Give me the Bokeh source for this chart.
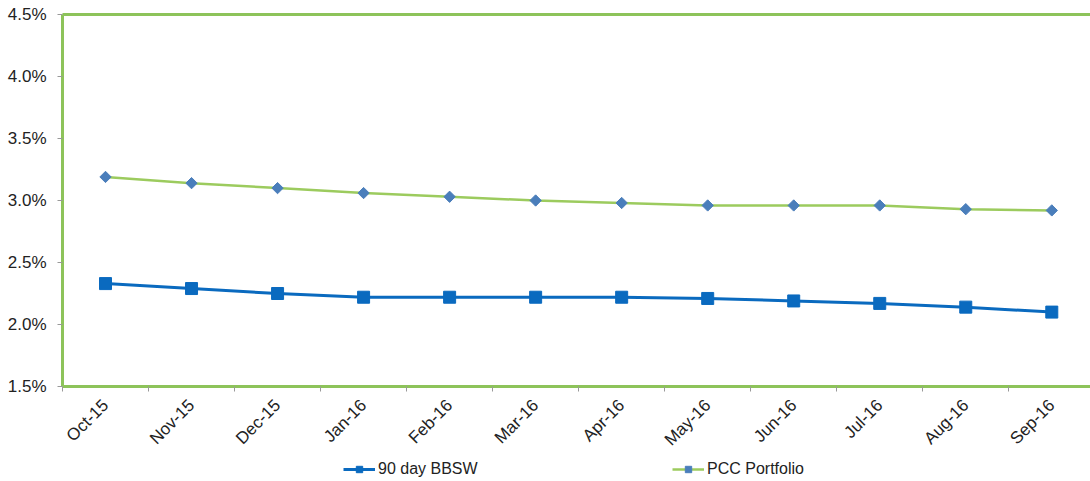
from bokeh.plotting import figure
from bokeh.layouts import column
from bokeh.models import (Range1d, FixedTicker, PrintfTickFormatter, LinearAxis,
                          Legend, LegendItem)
from bokeh.embed import file_html
from bokeh.resources import INLINE
import math

# Monthly rates, in percent
months = ["Oct-15", "Nov-15", "Dec-15", "Jan-16", "Feb-16", "Mar-16",
          "Apr-16", "May-16", "Jun-16", "Jul-16", "Aug-16", "Sep-16"]
bbsw_90day = [2.33, 2.29, 2.25, 2.22, 2.22, 2.22, 2.22, 2.21, 2.19, 2.17, 2.14, 2.10]
pcc_portfolio = [3.19, 3.14, 3.10, 3.06, 3.03, 3.00, 2.98, 2.96, 2.96, 2.96, 2.93, 2.92]
y_ticks = [1.5, 2.0, 2.5, 3.0, 3.5, 4.0, 4.5]

FONT = "Liberation Sans"
FRAME_GREEN = "#8DC35A"
BLUE = "#0A6ABF"
LINE_GREEN = "#9CCB5E"
DIAMOND = "#4A7EBB"
TEXT = "#222222"

xs = list(range(len(months)))

p = figure(width=1090, height=459, output_backend="svg", toolbar_location=None,
           x_range=Range1d(-0.5, 11.45), y_range=Range1d(1.5, 4.5),
           min_border_left=62, min_border_right=0, min_border_top=14,
           min_border_bottom=63, outline_line_color=None)
p.xgrid.visible = False
p.ygrid.visible = False
p.background_fill_color = "white"
p.border_fill_color = "white"

# y axis
p.yaxis.ticker = FixedTicker(ticks=y_ticks)
p.yaxis.formatter = PrintfTickFormatter(format="%.1f%%")
p.yaxis.axis_line_color = FRAME_GREEN
p.yaxis.axis_line_width = 3
p.yaxis.major_tick_line_color = "#999999"
p.yaxis.major_tick_out = 5
p.yaxis.major_tick_in = 0
p.yaxis.minor_tick_line_color = None
p.yaxis.major_label_standoff = 11
p.yaxis.major_label_text_font = FONT
p.yaxis.major_label_text_font_size = "17px"
p.yaxis.major_label_text_color = TEXT

# x axis: labels at month centres, ticks on the boundaries
p.xaxis.ticker = FixedTicker(ticks=xs, minor_ticks=[k + 0.5 for k in range(-1, 12)])
p.xaxis.major_label_overrides = {i: m for i, m in enumerate(months)}
p.xaxis.major_label_orientation = math.pi / 4
p.xaxis.major_tick_line_color = None
p.xaxis.major_tick_out = 0
p.xaxis.major_tick_in = 0
p.xaxis.minor_tick_line_color = "#999999"
p.xaxis.minor_tick_out = 5
p.xaxis.minor_tick_in = 0
p.xaxis.axis_line_color = FRAME_GREEN
p.xaxis.axis_line_width = 3
p.xaxis.major_label_standoff = 11
p.xaxis.major_label_text_font = FONT
p.xaxis.major_label_text_font_size = "17px"
p.xaxis.major_label_text_color = TEXT

# top border line
top = LinearAxis(ticker=FixedTicker(ticks=[]), axis_line_color=FRAME_GREEN,
                 axis_line_width=3, major_tick_line_color=None,
                 minor_tick_line_color=None, major_label_text_font_size="0px")
p.add_layout(top, "above")

p.line(xs, bbsw_90day, line_color=BLUE, line_width=3)
p.scatter(xs, bbsw_90day, marker="square", size=12,
          fill_color=BLUE, line_color=BLUE)
p.line(xs, pcc_portfolio, line_color=LINE_GREEN, line_width=2.5)
p.scatter(xs, pcc_portfolio, marker="square", size=8, angle=math.pi / 4,
          fill_color=DIAMOND, line_color=DIAMOND)

# legend strip under the chart; its key glyphs sit outside the strip's range
lf = figure(width=1090, height=22, output_backend="svg", toolbar_location=None,
            x_range=Range1d(0, 1), y_range=Range1d(0, 1),
            min_border_left=62, min_border_right=0, min_border_top=0,
            min_border_bottom=0, outline_line_color=None)
lf.axis.visible = False
lf.grid.visible = False
lf.border_fill_color = "white"
off_x = [-10, -9]
off_y = [-10, -10]
kb_line = lf.line(off_x, off_y, line_color=BLUE, line_width=3)
kb_pts = lf.scatter(off_x, off_y, marker="square", size=10,
                    fill_color=BLUE, line_color=BLUE)
kg_line = lf.line(off_x, off_y, line_color=LINE_GREEN, line_width=2.5)
kg_pts = lf.scatter(off_x, off_y, marker="square", size=6, angle=math.pi / 4,
                    fill_color=DIAMOND, line_color=DIAMOND)

legend = Legend(items=[LegendItem(label="90 day BBSW", renderers=[kb_line, kb_pts]),
                       LegendItem(label="PCC Portfolio", renderers=[kg_line, kg_pts])],
                location=(281, 3), orientation="horizontal",
                glyph_width=32, glyph_height=16, label_height=16,
                label_width=294, label_standoff=3, spacing=0,
                padding=0, margin=0,
                border_line_color=None, background_fill_alpha=0,
                label_text_font=FONT, label_text_font_size="16px",
                label_text_color=TEXT)
lf.add_layout(legend, "center")

open("out.html", "w").write(file_html(column(p, lf, spacing=0), INLINE))
